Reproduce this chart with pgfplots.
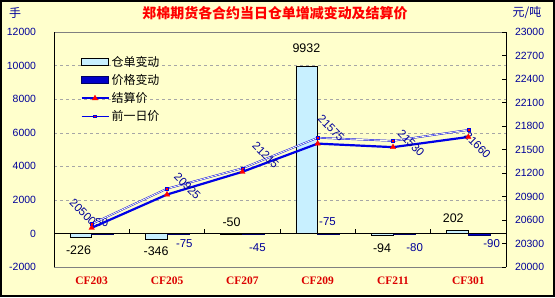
\documentclass[border=0pt]{standalone}
\usepackage{pgfplots}
\pgfplotsset{compat=1.18}
\usepackage{fontspec}
\setmainfont{Liberation Sans}
\newfontfamily\cjk{Noto Sans CJK SC}
\newfontfamily\catfont{Liberation Serif}
\definecolor{bgy}{RGB}{255,255,204}
\definecolor{tickblue}{RGB}{0,0,153}
\definecolor{barcyan}{RGB}{200,240,255}
\definecolor{linblue}{RGB}{0,0,230}
\definecolor{pbar}{RGB}{0,0,200}
\definecolor{catred}{RGB}{220,0,0}
\definecolor{dblfill}{RGB}{255,255,235}
\pgfplotsset{widelinelegend/.style={legend image code/.code={\draw[##1, mark repeat=2, mark phase=2] plot coordinates {(0bp,0bp) (13.5bp,0bp) (27bp,0bp)};}}}
\begin{document}
\begin{tikzpicture}[x=1bp,y=1bp]
\useasboundingbox (0,0) rectangle (555,297);
\fill[bgy] (0,0) rectangle (555,297);
\draw[line width=2bp] (1,1) rectangle (554,296);
\node[text=red, font=\cjk\bfseries\fontsize{14}{16}\selectfont] at (275,284) {郑棉期货各合约当日仓单增减变动及结算价};
\node[text=tickblue, font=\cjk\fontsize{12}{14}\selectfont] at (15,284) {手};
\node[text=tickblue, font=\cjk\fontsize{12}{14}\selectfont] at (527,284) {元/吨};

\begin{axis}[at={(54bp,30bp)}, anchor=south west, width=452bp, height=235bp, scale only axis,
  xmin=-0.5, xmax=5.5, ymin=-2000, ymax=12000,
  ytick={-2000,0,...,12000},
  xtick={0,...,5}, xticklabels={CF203,CF205,CF207,CF209,CF211,CF301},
  xtick style={draw=none}, ytick style={draw=none},
  separate axis lines, x axis line style={draw=gray}, y axis line style={draw=black},
  ymajorgrids, grid style={gray!70, dash pattern=on 3bp off 3bp},
  /pgf/number format/assume math mode=true,
  scaled y ticks=false, yticklabel style={text=tickblue, font=\fontsize{10.5}{12}\selectfont, xshift=-14.5bp, /pgf/number format/1000 sep={}},
  xticklabel style={text=catred, font=\catfont\bfseries\fontsize{11.5}{13}\selectfont, yshift=-6bp},
  legend style={draw=none, fill=none, at={(0.058,0.906)}, anchor=north west, font=\cjk\fontsize{12}{14}\selectfont, row sep=2.5bp, inner sep=0pt},
  legend cell align=left,
  clip=false]
\addplot[ybar, bar width=0.29, bar shift=-0.145, fill=barcyan, draw=black, line width=0.6bp,
  legend image code/.code={\draw[fill=barcyan,draw=black,line width=0.6bp] (0bp,-3.5bp) rectangle (27bp,3.5bp);}]
  coordinates {(0,-226) (1,-346) (2,-50) (3,9932) (4,-94) (5,202)};
\addlegendentry{仓单变动}
\addplot[ybar, bar width=0.29, bar shift=0.145, fill=pbar, draw=black!60!blue, line width=0.6bp,
  legend image code/.code={\draw[fill=pbar,draw=black!60!blue,line width=0.6bp] (0bp,-3.5bp) rectangle (27bp,3.5bp);}]
  coordinates {(0,-50) (1,-75) (2,-45) (3,-75) (4,-80) (5,-90)};
\addlegendentry{价格变动}
\addlegendimage{linblue, line width=2.2bp, mark=triangle*, mark options={fill=red, draw=red, scale=1.6, line width=0.3bp}, widelinelegend}
\addlegendentry{结算价}
\addlegendimage{linblue, line width=0.8bp, mark=square*, mark options={fill=red, draw=none, scale=0.7}, widelinelegend}
\addlegendentry{前一日价}
\draw[black, line width=0.8bp] (axis cs:-0.5,0) -- (axis cs:5.5,0);
\draw[black, line width=0.6bp] (axis cs:0.5,0) -- ++(0bp,4bp);
\draw[black, line width=0.6bp] (axis cs:1.5,0) -- ++(0bp,4bp);
\draw[black, line width=0.6bp] (axis cs:2.5,0) -- ++(0bp,4bp);
\draw[black, line width=0.6bp] (axis cs:3.5,0) -- ++(0bp,4bp);
\draw[black, line width=0.6bp] (axis cs:4.5,0) -- ++(0bp,4bp);
% warehouse change labels (black)
\begin{scope}[every node/.style={font=\fontsize{12.5}{14}\selectfont, text=black}]
\node at (axis cs:2.85,11036) {9932};
\node at (axis cs:-0.175,-988) {-226};
\node at (axis cs:0.855,-1048) {-346};
\node at (axis cs:1.857,696) {-50};
\node at (axis cs:3.855,-887) {-94};
\node at (axis cs:4.80,935) {202};
\end{scope}
% price change labels (blue)
\begin{scope}[every node/.style={font=\fontsize{11.5}{13}\selectfont, text=tickblue}]
\node at (axis cs:0.11,637) {-50};
\node at (axis cs:1.23,-631) {-75};
\node at (axis cs:2.20,-827) {-45};
\node at (axis cs:3.13,696) {-75};
\node at (axis cs:4.287,-869) {-80};
\node at (axis cs:5.31,-631) {-90};
\end{scope}
\end{axis}

\begin{axis}[at={(54bp,30bp)}, anchor=south west, width=452bp, height=235bp, scale only axis,
  xmin=-0.5, xmax=5.5, ymin=20000, ymax=23000,
  ytick={20000,20300,...,23000},
  axis x line=none, axis y line*=right, y axis line style={black, -},
  ytick style={black, line width=0.6bp}, tick align=inside, major tick length=4bp,
  /pgf/number format/assume math mode=true,
  scaled y ticks=false, yticklabel style={text=tickblue, font=\fontsize{10.5}{12}\selectfont, xshift=5.5bp, /pgf/number format/1000 sep={}},
  clip=false]
\addplot[linblue, line width=0.45bp, double=dblfill, double distance=0.8bp,
  mark=square*, mark options={fill=red, draw=none, scale=0.7}]
  coordinates {(0,20550) (1,21000) (2,21260) (3,21650) (4,21610) (5,21750)};
\addplot[linblue, line width=2.2bp, mark=triangle*, mark options={fill=red, draw=red, scale=1.6, line width=0.3bp}]
  coordinates {(0,20500) (1,20925) (2,21215) (3,21575) (4,21530) (5,21660)};
\begin{scope}[every node/.style={font=\fontsize{11.5}{13}\selectfont, text=tickblue, rotate=-45}]
\node at (axis cs:-0.115,20702) {20500};
\node at (axis cs:1.27,21034) {20925};
\node at (axis cs:2.31,21430) {21215};
\node at (axis cs:3.18,21774) {21575};
\node at (axis cs:4.24,21583) {21530};
\node at (axis cs:5.12,21557) {21660};
\end{scope}
\end{axis}
\end{tikzpicture}
\end{document}
